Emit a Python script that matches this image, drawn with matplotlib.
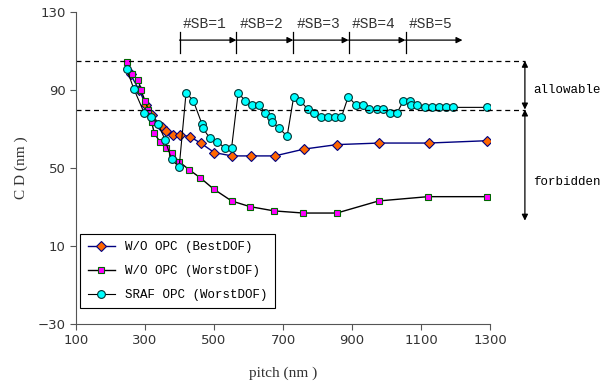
import matplotlib
matplotlib.use("Agg")
import matplotlib.pyplot as plt

# W/O OPC (Best DOF)
best_p = [258, 283, 303, 320, 348, 360, 380, 401, 430, 462, 501, 552, 606, 676,
          761, 856, 979, 1122, 1291]
best_cd = [98.0, 90.0, 82.3, 77.2, 70.9, 69.1, 67.1, 67.1, 66.1, 62.7, 57.9, 56.2,
           56.2, 56.2, 59.7, 62.0, 62.8, 62.8, 64.0]

# W/O OPC (Worst DOF)
worst_p = [249, 263, 281, 288, 300, 310, 319, 327, 344, 360, 377, 399, 428, 460,
           499, 551, 604, 674, 759, 856, 977, 1120, 1291]
worst_cd = [104.5, 98.2, 95.1, 90.0, 84.5, 79.7, 73.7, 67.8, 63.3, 60.1, 57.5, 53.2,
            49.1, 45.0, 39.2, 33.1, 30.2, 28.0, 26.9, 26.9, 33.1, 35.3, 35.3]

# SRAF OPC (Worst DOF)
sraf_p = [247, 268, 298, 317, 339, 358, 377, 399, 419, 440, 465, 467, 488, 510,
          532, 551, 570, 590, 609, 630, 649, 666, 669, 688, 712, 731, 749, 771,
          790, 809, 830, 850, 869, 889, 911, 931, 950, 971, 991, 1010, 1030, 1049,
          1068, 1070, 1089, 1112, 1132, 1152, 1173, 1192, 1291]
sraf_cd = [100.6, 90.4, 78.1, 76.0, 72.4, 64.4, 54.5, 50.4, 88.6, 84.5, 72.6, 70.7,
           65.2, 63.2, 60.4, 60.4, 88.6, 84.5, 82.3, 82.3, 78.4, 76.3, 73.6, 70.4,
           66.4, 86.6, 84.5, 80.4, 78.1, 76.0, 76.0, 76.0, 76.0, 86.6, 82.3, 82.3,
           80.3, 80.3, 80.3, 78.1, 78.1, 84.5, 84.5, 82.3, 82.3, 81.1, 81.1, 81.1,
           81.1, 81.1, 81.1]

sb_edges = [400, 565, 730, 890, 1055, 1220]
sb_labels = ["#SB=1", "#SB=2", "#SB=3", "#SB=4", "#SB=5"]

limits = [105, 80]
mono = "Liberation Mono"
gray = "#333333"

fig = plt.figure(figsize=(6.08, 3.88), dpi=100)
ax = fig.add_axes([0.125, 0.165, 0.681, 0.804])

ax.plot(best_p, best_cd, color="#000080", lw=1, marker="D", ms=5,
        mfc="#FF6600", mec="#000080", mew=0.8, label="W/O OPC (BestDOF)")
ax.plot(worst_p, worst_cd, color="black", lw=1, marker="s", ms=4,
        mfc="#FF00FF", mec="#006600", mew=0.8, label="W/O OPC (WorstDOF)")
ax.plot(sraf_p, sraf_cd, color="black", lw=0.8, marker="o", ms=5.6,
        mfc="#00FFFF", mec="#003333", mew=0.8, label="SRAF OPC (WorstDOF)")

ax.set_xlim(100, 1300)
ax.set_ylim(-30, 130)
ax.set_xticks(range(100, 1301, 200))
ax.set_yticks(range(-30, 131, 40))
for s in ["top", "right"]:
    ax.spines[s].set_visible(False)
for s in ["left", "bottom"]:
    ax.spines[s].set_color("#555555")
ax.tick_params(direction="out", length=4, color="#555555", labelsize=9.5,
               labelcolor=gray)

ax.set_xlabel("pitch (nm )", family="Liberation Serif", fontsize=11, color=gray)
ax.set_ylabel("C D (nm )", family="Liberation Serif", fontsize=11, color=gray)
ax.xaxis.set_label_coords(0.5, -0.135)
ax.yaxis.set_label_coords(-0.115, 0.5)

# dashed limit lines, running past the axes
for v in limits:
    ax.plot([100, 1401], [v, v], ls=(0, (4, 3)), color="black", lw=0.9, clip_on=False)

arr = dict(arrowstyle="<|-|>", color="black", lw=0.9, mutation_scale=9,
           shrinkA=0, shrinkB=0)
ax.annotate("", xy=(1401, 105), xytext=(1401, 80), arrowprops=arr, annotation_clip=False)
ax.annotate("", xy=(1401, 80), xytext=(1401, 23), arrowprops=arr, annotation_clip=False)
ax.text(1425, 90, "allowable", family=mono, fontsize=9, va="center", clip_on=False)
ax.text(1425, 43, "forbidden", family=mono, fontsize=9, va="center", clip_on=False)

# scattering bar ranges
harr = dict(arrowstyle="-|>", color="black", lw=0.9, mutation_scale=9,
            shrinkA=0, shrinkB=0)
for i, lab in enumerate(sb_labels):
    x0, x1 = sb_edges[i], sb_edges[i + 1]
    ax.annotate("", xy=(x1, 115.6), xytext=(x0, 115.6), arrowprops=harr,
                annotation_clip=False)
    ax.plot([x0, x0], [109, 119.5], color="black", lw=0.9, clip_on=False)
    ax.text(x0 + 8, 120.5, lab, family=mono, fontsize=10.5, va="bottom",
            color=gray, clip_on=False)

leg = ax.legend(loc="lower left", bbox_to_anchor=(0.01, 0.05), prop={"family": mono, "size": 9},
                fancybox=False, framealpha=1, edgecolor="black", borderpad=0.6,
                handlelength=2.2, labelspacing=0.95, borderaxespad=0)
leg.get_frame().set_linewidth(0.8)

fig.savefig("out.png", dpi=100)
